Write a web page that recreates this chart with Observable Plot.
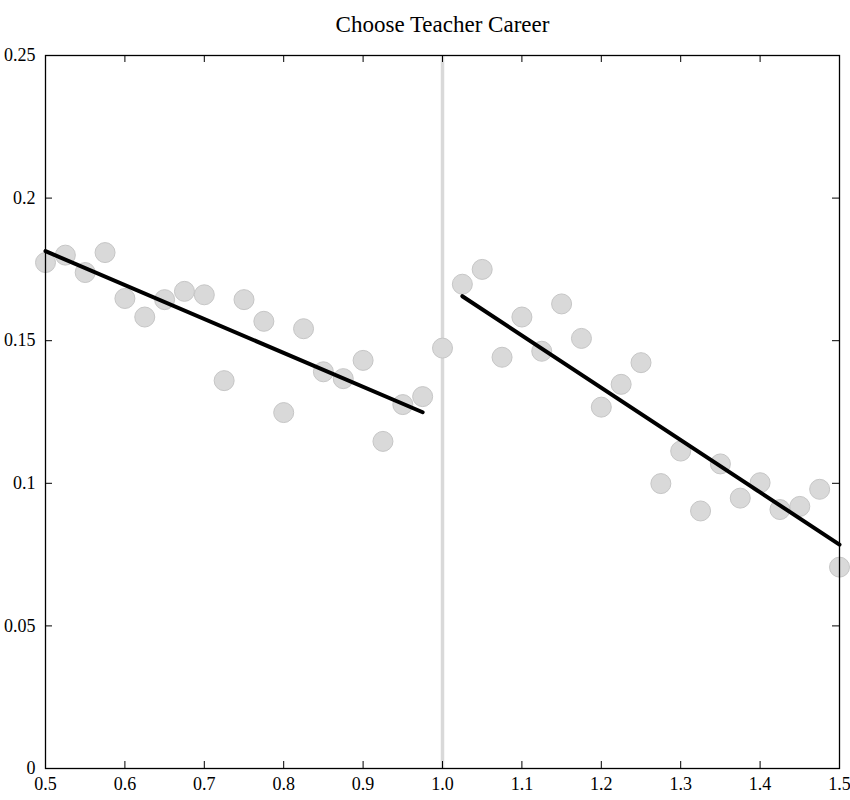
<!DOCTYPE html>
<html>
<head>
<meta charset="utf-8">
<script src="https://cdn.jsdelivr.net/npm/d3@7"></script>
<script src="https://cdn.jsdelivr.net/npm/@observablehq/plot@0.6"></script>
<style>
  body { margin: 0; background: #fff; }
  svg { font-family: "Liberation Serif", "DejaVu Serif", serif; }
</style>
</head>
<body>
<div id="chart"></div>
<script>
const title = "Choose Teacher Career";
const binX = [0.5,0.525,0.55,0.575,0.6,0.625,0.65,0.675,0.7,0.725,0.75,0.775,0.8,0.825,0.85,0.875,0.9,0.925,0.95,0.975,1.0,
  1.025,1.05,1.075,1.1,1.125,1.15,1.175,1.2,1.225,1.25,1.275,1.3,1.325,1.35,1.375,1.4,1.425,1.45,1.475,1.5];
const binY = [0.1774,0.1800,0.1739,0.1809,0.1648,0.1583,0.1644,0.1673,0.1661,0.1360,0.1644,0.1568,0.1248,0.1542,0.1391,0.1367,0.1431,0.1147,0.1276,0.1304,0.1474,
  0.1698,0.1750,0.1442,0.1583,0.1463,0.1629,0.1508,0.1267,0.1347,0.1423,0.0999,0.1113,0.0903,0.1068,0.0948,0.1002,0.0908,0.0919,0.0979,0.0706];
const fitLeftX = [0.5, 0.975];
const fitLeftY = [0.1814, 0.1249];
const fitRightX = [1.025, 1.5];
const fitRightY = [0.1656, 0.0785];
const cutoff = [1.0];
const xTicks = [0.5,0.6,0.7,0.8,0.9,1.0,1.1,1.2,1.3,1.4,1.5];
const yTicks = [0,0.05,0.1,0.15,0.2,0.25];

const points = binX.map((x, i) => ({x, y: binY[i]}));
const leftLine = fitLeftX.map((x, i) => ({x, y: fitLeftY[i]}));
const rightLine = fitRightX.map((x, i) => ({x, y: fitRightY[i]}));

const W = 850, H = 800, mL = 45, mR = 11, mT = 55, mB = 32;
const pw = W - mL - mR, ph = H - mT - mB, tl = 7;

const chart = Plot.plot({
  width: W, height: H,
  marginLeft: mL, marginRight: mR, marginTop: mT, marginBottom: mB,
  style: {fontFamily: "Liberation Serif, DejaVu Serif, serif", fontSize: "18px", background: "#fff", color: "#000"},
  x: {domain: [0.5, 1.5], label: null},
  y: {domain: [0, 0.25], label: null},
  marks: [
    Plot.ruleX(cutoff, {stroke: "#d9d9d9", strokeWidth: 3.5}),
    Plot.dot(points, {x: "x", y: "y", r: 10, fill: "#d9d9d9", stroke: "#c6c6c6", strokeWidth: 1}),
    Plot.line(leftLine, {x: "x", y: "y", stroke: "#000", strokeWidth: 4}),
    Plot.line(rightLine, {x: "x", y: "y", stroke: "#000", strokeWidth: 4}),
    Plot.tickY(yTicks, {y: d => d, insetRight: pw - tl, stroke: "#000", strokeWidth: 1}),
    Plot.tickY(yTicks, {y: d => d, insetLeft: pw - tl, stroke: "#000", strokeWidth: 1}),
    Plot.tickX(xTicks, {x: d => d, insetBottom: ph - tl, stroke: "#000", strokeWidth: 1}),
    Plot.tickX(xTicks, {x: d => d, insetTop: ph - tl, stroke: "#000", strokeWidth: 1}),
    Plot.axisX({ticks: xTicks, tickSize: 0, tickPadding: 9, tickFormat: d3.format(".1f"), label: null, fontSize: 18}),
    Plot.axisY({ticks: yTicks, tickSize: 0, tickPadding: 10, tickFormat: d => String(d), label: null, fontSize: 18}),
    Plot.frame({stroke: "#000", strokeWidth: 1.3}),
    Plot.text([title], {frameAnchor: "top", dy: -40, fontSize: 23, fill: "#000"})
  ]
});
document.getElementById("chart").appendChild(chart);
</script>
</body>
</html>
